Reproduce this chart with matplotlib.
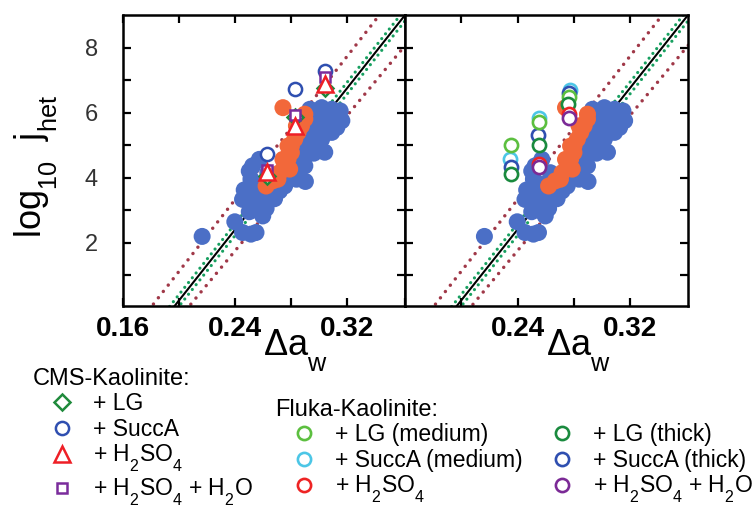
import numpy as np
import matplotlib.pyplot as plt
import matplotlib._mathtext as mathtext_internal

plt.rcParams['font.family'] = ['Liberation Sans', 'DejaVu Sans']
plt.rcParams['mathtext.default'] = 'regular'
# subscripts sit lower in the original figure
mathtext_internal.FontConstantsBase.sub1 = 0.8

# background ice nucleation data (same in both panels)
blue_aw = [0.2164, 0.2397, 0.2452, 0.2512, 0.2548, 0.2596, 0.2572, 0.2488, 0.2536, 0.2608,
           0.2560, 0.2524, 0.2572, 0.2512, 0.2632, 0.2656, 0.2716, 0.2728, 0.2836, 0.2800,
           0.2860, 0.2896, 0.2920, 0.2872, 0.2944, 0.2896, 0.2992, 0.2968, 0.3016, 0.3040,
           0.3016, 0.3088, 0.3064, 0.3124, 0.3040, 0.3112, 0.2992, 0.2944, 0.2932, 0.3016,
           0.3088, 0.3148, 0.2968, 0.2920, 0.2824, 0.2452, 0.2584, 0.3038, 0.2900, 0.2848,
           0.2752, 0.2680, 0.2464, 0.2500, 0.2880, 0.2960, 0.3000, 0.3060, 0.2980, 0.3100,
           0.3160, 0.2500, 0.2620]
blue_logj = [2.19, 2.64, 2.31, 2.26, 2.31, 2.82, 3.18, 3.54, 3.38, 3.33,
             3.80, 4.36, 4.56, 3.95, 4.15, 3.54, 3.59, 3.90, 3.95, 4.26,
             4.56, 4.36, 4.77, 4.87, 5.08, 5.18, 4.97, 5.39, 5.18, 5.39,
             5.64, 5.39, 5.69, 5.54, 5.90, 5.85, 6.00, 5.90, 6.10, 6.15,
             6.10, 6.05, 5.69, 5.49, 4.15, 3.33, 2.92, 4.78, 3.88, 4.15,
             3.74, 3.35, 3.62, 4.20, 4.60, 4.75, 5.60, 6.00, 5.25, 5.95,
             5.75, 2.95, 3.05]
orange_aw = [0.2740, 0.2620, 0.2668, 0.2716, 0.2752, 0.2776, 0.2800, 0.2800, 0.2824,
             0.2848, 0.2872, 0.2896, 0.2896, 0.2788, 0.2740, 0.2704, 0.2776, 0.2836]
orange_logj = [6.15, 3.74, 3.90, 4.15, 4.36, 4.56, 4.77, 4.97, 5.18,
               5.39, 5.59, 5.80, 5.95, 4.26, 4.56, 3.95, 4.97, 5.59]

# CMS-Kaolinite (left panel)
cms_aw = [0.2625, 0.2829, 0.3040]
cms_lg = [4.05, 5.85, 6.77]
cms_succa = [4.72, 6.72, 7.28]
cms_h2so4 = [4.17, 5.59, 6.87]
cms_h2so4_h2o = [4.24, 5.92, 7.08]

# Fluka-Kaolinite (right panel)
fl_succa_med_aw = [0.2345, 0.2551, 0.2771]
fl_succa_med = [4.56, 5.83, 6.70]
fl_succa_thick_aw = [0.2354, 0.2546, 0.2764]
fl_succa_thick = [4.31, 5.30, 6.59]
fl_lg_med_aw = [0.2354, 0.2551, 0.2764]
fl_lg_med = [5.00, 5.71, 6.49]
fl_lg_thick_aw = [0.2354, 0.2551, 0.2759]
fl_lg_thick = [4.10, 5.00, 6.26]
fl_h2so4_aw = [0.2551, 0.2764]
fl_h2so4 = [4.41, 5.95]
fl_h2so4_h2o_aw = [0.2551, 0.2764]
fl_h2so4_h2o = [4.31, 5.83]

# fit lines: log10 J = slope * aw + intercept
fit_line = [54.48, -10.67]
fit_band = [54.48, -10.49, -10.85]   # slope, upper and lower intercept (green)
upper_bound = [55.2, -9.92]
lower_bound = [52.1, -10.75]

cms_labels = ['+ LG', '+ SuccA', '+ H$_2$SO$_4$', '+ H$_2$SO$_4$ + H$_2$O']
fluka_labels = ['+ LG (medium)', '+ SuccA (medium)', '+ H$_2$SO$_4$',
                '+ LG (thick)', '+ SuccA (thick)', '+ H$_2$SO$_4$ + H$_2$O']

BLUE = '#4b6fc6'
ORANGE = '#f2683a'


def drawBackground(ax):
    aw = np.array([0.15, 0.37])
    red = dict(color='#a03848', lw=2.5, ls=(0, (0.01, 2.3)), dash_capstyle='round', zorder=1)
    ax.plot(aw, upper_bound[0] * aw + upper_bound[1], **red)
    ax.plot(aw, lower_bound[0] * aw + lower_bound[1], **red)
    green = dict(color='#17a060', lw=2.3, ls=(0, (0.01, 1.9)), dash_capstyle='round', zorder=1)
    ax.plot(aw, fit_band[0] * aw + fit_band[1], **green)
    ax.plot(aw, fit_band[0] * aw + fit_band[2], **green)
    ax.plot(aw, fit_line[0] * aw + fit_line[1], color='black', lw=1.5, zorder=1)
    ax.scatter(blue_aw, blue_logj, s=150, color=BLUE, edgecolors='none', zorder=2)
    ax.scatter(orange_aw, orange_logj, s=150, color=ORANGE, edgecolors='none', zorder=3)


def styleAxes(ax, xlabels):
    ax.set_xlim(0.16, 0.361)
    ax.set_ylim(0.05, 9.0)
    ax.set_xticks([0.16, 0.24, 0.32])
    ax.set_xticks([0.20, 0.28], minor=True)
    ax.set_xticklabels(xlabels, fontsize=20, fontweight='bold')
    ax.set_yticks([2, 4, 6, 8])
    ax.set_yticks([1, 3, 5, 7], minor=True)
    ax.tick_params(which='both', direction='in', top=True, right=True,
                   length=6, width=1.6, color='black')
    ax.tick_params(axis='x', pad=7)
    ax.tick_params(axis='y', labelsize=17, labelcolor='#333333', pad=18)
    for s in ax.spines.values():
        s.set_linewidth(1.8)
    ax.text(0.497, -0.168, r'$\Delta a_w$', transform=ax.transAxes,
            fontsize=26, ha='left', va='baseline')


def run():
    fig = plt.figure(figsize=(7.56, 5.07), dpi=100)
    axL = fig.add_axes([123 / 756, 1 - 306 / 507, 282 / 756, 291 / 507])
    axR = fig.add_axes([405 / 756, 1 - 306 / 507, 283 / 756, 291 / 507])

    drawBackground(axL)
    mk = dict(ls='none', mfc='white', mew=1.8, zorder=5)
    hL = [
        axL.plot(cms_aw, cms_lg, marker='D', ms=8, mec='#1f8a3c', **mk)[0],
        axL.plot(cms_aw, cms_succa, marker='o', ms=9.5, mec='#2f4fb0', **mk)[0],
        axL.plot(cms_aw, cms_h2so4, marker='^', ms=11, mec='#ee1f26', **mk)[0],
        axL.plot(cms_aw, cms_h2so4_h2o, marker='s', ms=7.5, mec='#7a2c9c', **mk)[0],
    ]
    # draw order: diamonds, circles, squares, triangles on top
    hL[3].set_zorder(6)
    hL[2].set_zorder(7)
    styleAxes(axL, ['0.16', '0.24', '0.32'])

    drawBackground(axR)
    mkR = dict(ls='none', marker='o', ms=9.5, mfc='white', mew=1.9)
    h_succa_med = axR.plot(fl_succa_med_aw, fl_succa_med, mec='#4cc6e6', zorder=5, **mkR)[0]
    h_succa_thick = axR.plot(fl_succa_thick_aw, fl_succa_thick, mec='#2f4fb0', zorder=6, **mkR)[0]
    h_lg_med = axR.plot(fl_lg_med_aw, fl_lg_med, mec='#5cbf3f', zorder=7, **mkR)[0]
    h_lg_thick = axR.plot(fl_lg_thick_aw, fl_lg_thick, mec='#1a8a3e', zorder=8, **mkR)[0]
    h_h2so4 = axR.plot(fl_h2so4_aw, fl_h2so4, mec='#ee2424', zorder=9, **mkR)[0]
    h_h2so4_h2o = axR.plot(fl_h2so4_h2o_aw, fl_h2so4_h2o, mec='#7b2a96', zorder=10, **mkR)[0]
    styleAxes(axR, ['', '0.24', '0.32'])
    axR.set_yticklabels([])

    fig.text(12 / 756, 1 - 166 / 507, 'log$_{10}$  j$_{het}$', rotation=90,
             fontsize=26, ha='left', va='center')

    leg = dict(loc='upper left', frameon=False, fontsize=16.5, title_fontsize=17,
               alignment='left', handletextpad=0.1, labelspacing=0.1,
               borderpad=0, borderaxespad=0, handlelength=2.5)
    fig.legend(hL, cms_labels, title='CMS-Kaolinite:',
               bbox_to_anchor=(33 / 756, 1 - 368 / 507), **leg)
    fig.legend([h_lg_med, h_succa_med, h_h2so4, h_lg_thick, h_succa_thick, h_h2so4_h2o],
               fluka_labels, title='Fluka-Kaolinite:',
               bbox_to_anchor=(275 / 756, 1 - 399 / 507),
               ncol=2, columnspacing=0.5, **leg)

    fig.savefig('out.png', dpi=100)


if __name__ == '__main__':
    run()
